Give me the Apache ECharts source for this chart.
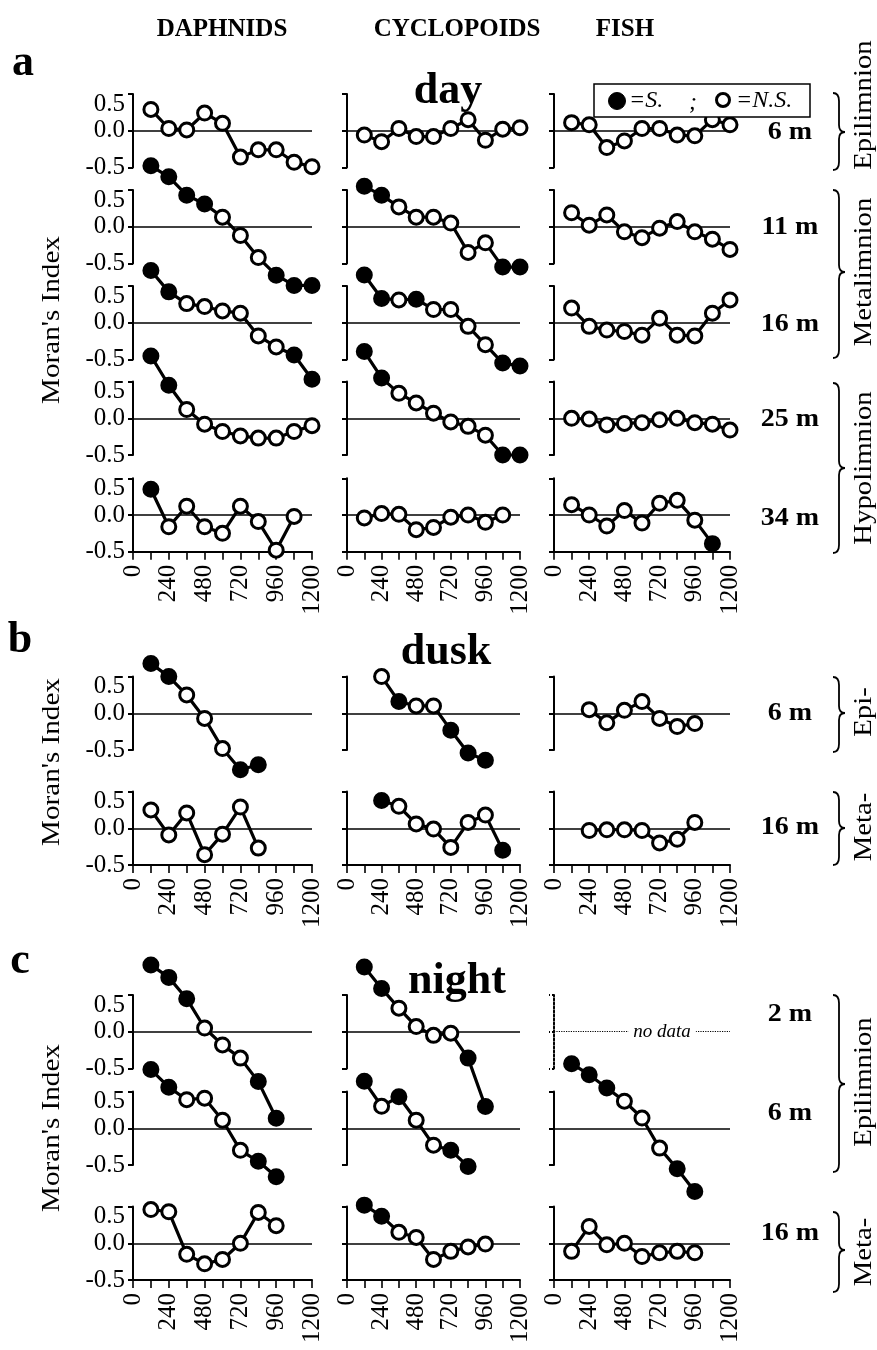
<!DOCTYPE html>
<html><head><meta charset="utf-8">
<script src="https://cdn.jsdelivr.net/npm/echarts@6/dist/echarts.min.js"></script>
<style>html,body{margin:0;padding:0;background:#fff}#c{width:877px;height:1350px}</style>
</head><body><div id="c"></div>
<script>
// ---------- DATA ----------
const LAGS = [120, 240, 360, 480, 600, 720, 840, 960, 1080, 1200];
const X_TICK_LABELS = [0, 240, 480, 720, 960, 1200];
const Y_TICK_LABELS = [-0.5, 0.0, 0.5];
const COLUMN_NAMES = ['DAPHNIDS', 'CYCLOPOIDS', 'FISH'];

// day (a)  -- sig: 1 = significant (filled), 0 = N.S. (open)
const dayDaph6  = [0.29, 0.03, 0.01, 0.24, 0.10, -0.36, -0.26, -0.26, -0.43, -0.49];
const dayDaph6Sig  = '0000000000';
const dayDaph11 = [0.83, 0.68, 0.43, 0.31, 0.13, -0.12, -0.42, -0.66, -0.80, -0.80];
const dayDaph11Sig = '1111000111';
const dayDaph16 = [0.71, 0.42, 0.26, 0.22, 0.16, 0.13, -0.18, -0.33, -0.44, -0.77];
const dayDaph16Sig = '1100000011';
const dayDaph25 = [0.85, 0.45, 0.12, -0.08, -0.18, -0.24, -0.27, -0.27, -0.18, -0.10];
const dayDaph25Sig = '1100000000';
const dayDaph34 = [0.35, -0.16, 0.12, -0.16, -0.25, 0.12, -0.09, -0.48, -0.02];
const dayDaph34Sig = '100000000';

const dayCyc6  = [-0.06, -0.15, 0.03, -0.08, -0.08, 0.03, 0.15, -0.13, 0.02, 0.04];
const dayCyc6Sig  = '0000000000';
const dayCyc11 = [0.55, 0.43, 0.27, 0.13, 0.13, 0.05, -0.35, -0.22, -0.55, -0.55];
const dayCyc11Sig = '1100000011';
const dayCyc16 = [0.65, 0.33, 0.31, 0.32, 0.18, 0.18, -0.05, -0.30, -0.55, -0.59];
const dayCyc16Sig = '1101000011';
const dayCyc25 = [0.91, 0.55, 0.34, 0.21, 0.07, -0.05, -0.11, -0.23, -0.50, -0.50];
const dayCyc25Sig = '1100000011';
const dayCyc34 = [-0.04, 0.02, 0.01, -0.20, -0.17, -0.03, 0.00, -0.10, 0.00];
const dayCyc34Sig = '000000000';

const dayFish6  = [0.11, 0.08, -0.23, -0.14, 0.03, 0.03, -0.06, -0.07, 0.15, 0.08];
const dayFish6Sig  = '0000000000';
const dayFish11 = [0.19, 0.02, 0.16, -0.07, -0.15, -0.02, 0.07, -0.07, -0.17, -0.31];
const dayFish11Sig = '0000000000';
const dayFish16 = [0.20, -0.05, -0.10, -0.12, -0.17, 0.06, -0.17, -0.18, 0.13, 0.31];
const dayFish16Sig = '0000000000';
const dayFish25 = [0.00, -0.01, -0.09, -0.07, -0.06, -0.02, 0.00, -0.06, -0.08, -0.16];
const dayFish25Sig = '0000000000';
const dayFish34 = [0.14, 0.00, -0.15, 0.06, -0.11, 0.16, 0.20, -0.07, -0.39];
const dayFish34Sig = '000000001';

// dusk (b)
const duskDaph6  = [0.68, 0.50, 0.25, -0.07, -0.48, -0.77, -0.70];        // lags from 120
const duskDaph6Sig  = '1100011';
const duskCyc6   = [0.50, 0.16, 0.10, 0.10, -0.23, -0.54, -0.64];         // lags from 240
const duskCyc6Sig   = '0100111';
const duskFish6  = [0.05, -0.13, 0.04, 0.16, -0.07, -0.18, -0.14];        // lags from 240
const duskFish6Sig  = '0000000';
const duskDaph16 = [0.25, -0.09, 0.21, -0.36, -0.08, 0.29, -0.27];        // from 120
const duskDaph16Sig = '0000000';
const duskCyc16  = [0.38, 0.30, 0.06, -0.01, -0.26, 0.08, 0.18, -0.30];   // from 240
const duskCyc16Sig  = '10000001';
const duskFish16 = [-0.03, -0.02, -0.02, -0.03, -0.20, -0.15, 0.08];      // from 240
const duskFish16Sig = '0000000';

// night (c)
const nightDaph2  = [0.91, 0.74, 0.45, 0.05, -0.18, -0.36, -0.68, -1.18];
const nightDaph2Sig  = '11100011';
const nightCyc2   = [0.88, 0.59, 0.32, 0.07, -0.05, -0.02, -0.36, -1.02];
const nightCyc2Sig   = '11000011';
const nightDaph6  = [0.80, 0.56, 0.39, 0.41, 0.11, -0.30, -0.45, -0.66];
const nightDaph6Sig  = '11000011';
const nightCyc6   = [0.64, 0.30, 0.43, 0.11, -0.23, -0.30, -0.52];
const nightCyc6Sig   = '1010011';
const nightFish6  = [0.88, 0.73, 0.55, 0.37, 0.14, -0.27, -0.55, -0.86];
const nightFish6Sig  = '11100011';
const nightDaph16 = [0.46, 0.43, -0.15, -0.28, -0.22, 0.00, 0.42, 0.24];
const nightDaph16Sig = '00000000';
const nightCyc16  = [0.52, 0.37, 0.15, 0.08, -0.22, -0.11, -0.05, -0.01];
const nightCyc16Sig  = '11000000';
const nightFish16 = [-0.11, 0.23, -0.02, 0.00, -0.18, -0.13, -0.11, -0.13];
const nightFish16Sig = '00000000';

// ---------- LAYOUT ----------
const COLS = [{l: 133, r: 312}, {l: 347, r: 520}, {l: 554, r: 730}];
const HALF = 36.7;
const FONT = 'Liberation Serif';
const AXFS = 25;

// panel spec: col, zero-line y, bottom row?, values, sig, first lag index
const PANELS = [
  // day
  [0, 130.7, false, dayDaph6, dayDaph6Sig, 0], [1, 130.7, false, dayCyc6, dayCyc6Sig, 0], [2, 130.7, false, dayFish6, dayFish6Sig, 0],
  [0, 226.7, false, dayDaph11, dayDaph11Sig, 0], [1, 226.7, false, dayCyc11, dayCyc11Sig, 0], [2, 226.7, false, dayFish11, dayFish11Sig, 0],
  [0, 322.7, false, dayDaph16, dayDaph16Sig, 0], [1, 322.7, false, dayCyc16, dayCyc16Sig, 0], [2, 322.7, false, dayFish16, dayFish16Sig, 0],
  [0, 418.3, false, dayDaph25, dayDaph25Sig, 0], [1, 418.3, false, dayCyc25, dayCyc25Sig, 0], [2, 418.3, false, dayFish25, dayFish25Sig, 0],
  [0, 515.0, true, dayDaph34, dayDaph34Sig, 0], [1, 515.0, true, dayCyc34, dayCyc34Sig, 0], [2, 515.0, true, dayFish34, dayFish34Sig, 0],
  // dusk
  [0, 713.3, false, duskDaph6, duskDaph6Sig, 0], [1, 713.3, false, duskCyc6, duskCyc6Sig, 1], [2, 713.3, false, duskFish6, duskFish6Sig, 1],
  [0, 828.3, true, duskDaph16, duskDaph16Sig, 0], [1, 828.3, true, duskCyc16, duskCyc16Sig, 1], [2, 828.3, true, duskFish16, duskFish16Sig, 1],
  // night
  [0, 1031.7, false, nightDaph2, nightDaph2Sig, 0], [1, 1031.7, false, nightCyc2, nightCyc2Sig, 0], [2, 1031.7, false, null, null, 0],
  [0, 1128.3, false, nightDaph6, nightDaph6Sig, 0], [1, 1128.3, false, nightCyc6, nightCyc6Sig, 0], [2, 1128.3, false, nightFish6, nightFish6Sig, 0],
  [0, 1243.3, true, nightDaph16, nightDaph16Sig, 0], [1, 1243.3, true, nightCyc16, nightCyc16Sig, 0], [2, 1243.3, true, nightFish16, nightFish16Sig, 0]
];

const grids = [], xAxes = [], yAxes = [], series = [];
PANELS.forEach((p, k) => {
  const [col, zero, bottom, vals, sig, start] = p;
  const c = COLS[col];
  const noData = vals === null;
  grids.push({left: c.l, top: zero - HALF, width: c.r - c.l, height: HALF * 2, containLabel: false});
  xAxes.push({
    type: 'value', gridIndex: k, min: 0, max: 1200, interval: 120, show: bottom,
    axisLine: {show: true, onZero: false, lineStyle: {color: '#000', width: 2}},
    axisTick: {show: true, length: 8, lineStyle: {color: '#000', width: 1.6}},
    axisLabel: {show: true, rotate: 90, margin: 13, color: '#000', fontFamily: FONT, fontSize: AXFS,
      showMinLabel: true, showMaxLabel: true,
      formatter: v => X_TICK_LABELS.indexOf(v) >= 0 ? String(v) : ''},
    splitLine: {show: false}
  });
  yAxes.push({
    type: 'value', gridIndex: k, min: Y_TICK_LABELS[0], max: Y_TICK_LABELS[2], interval: 0.5,
    axisLine: {show: true, lineStyle: {color: '#000', width: 2, type: noData ? 'dotted' : 'solid'}},
    axisTick: {show: true, length: 5, lineStyle: {color: '#000', width: 2, type: noData ? 'dotted' : 'solid'}},
    axisLabel: {show: col === 0, margin: 8, color: '#000', fontFamily: FONT, fontSize: AXFS,
      showMinLabel: true, showMaxLabel: true,
      formatter: v => v === Y_TICK_LABELS[2] ? '{t|' + v.toFixed(1) + '}' : v.toFixed(1),
      rich: {t: {padding: [20, 0, 0, 0], fontFamily: FONT, fontSize: AXFS, color: '#000'}}},
    splitLine: {show: false}
  });
  // zero reference line
  series.push({
    type: 'line', xAxisIndex: k, yAxisIndex: k, data: [], z: 1, silent: true, animation: false,
    markLine: {silent: true, symbol: ['none', 'none'], label: {show: false}, animation: false,
      lineStyle: {color: '#000', width: noData ? 1.2 : 1.6, type: noData ? 'dotted' : 'solid'},
      emphasis: {disabled: true}, data: [{yAxis: 0}]}
  });
  if (!noData) {
    series.push({
      type: 'line', xAxisIndex: k, yAxisIndex: k, z: 5, clip: false, animation: false, silent: true,
      symbol: 'circle', symbolSize: 14, showAllSymbol: true,
      lineStyle: {color: '#000', width: 3.2},
      itemStyle: {borderColor: '#000', borderWidth: 3},
      emphasis: {disabled: true},
      data: vals.map((v, i) => ({value: [LAGS[start + i], v],
        itemStyle: {color: sig[i] === '1' ? '#000' : '#fff', borderColor: '#000', borderWidth: 3}}))
    });
  }
});

// ---------- annotations ----------
const G = [];
function txt(s, x, y, o) {
  o = o || {};
  G.push({type: 'text', x: x, y: y, rotation: o.rot || 0, scaleX: o.sx || 1, scaleY: o.sy || 1, z: 20,
    style: {text: s, fill: '#000', fontFamily: FONT, fontSize: o.size || 24, fontWeight: o.bold ? 'bold' : 'normal',
      fontStyle: o.italic ? 'italic' : 'normal',
      textAlign: o.align || 'center', textVerticalAlign: 'middle', align: o.align || 'center', verticalAlign: 'middle',
      backgroundColor: o.bg, padding: o.pad}});
}
function brace(x, y1, y2, ym) {
  const s = {stroke: '#000', lineWidth: 1.8, fill: null};
  G.push({type: 'bezierCurve', z: 20, shape: {x1: x, y1: y1, x2: x + 6, y2: y1 + 8, cpx1: x + 6, cpy1: y1}, style: s});
  G.push({type: 'line', z: 20, shape: {x1: x + 6, y1: y1 + 8, x2: x + 6, y2: ym - 7}, style: s});
  G.push({type: 'bezierCurve', z: 20, shape: {x1: x + 6, y1: ym - 7, x2: x + 12, y2: ym, cpx1: x + 6, cpy1: ym}, style: s});
  G.push({type: 'bezierCurve', z: 20, shape: {x1: x + 12, y1: ym, x2: x + 6, y2: ym + 7, cpx1: x + 6, cpy1: ym}, style: s});
  G.push({type: 'line', z: 20, shape: {x1: x + 6, y1: ym + 7, x2: x + 6, y2: y2 - 8}, style: s});
  G.push({type: 'bezierCurve', z: 20, shape: {x1: x + 6, y1: y2 - 8, x2: x, y2: y2, cpx1: x + 6, cpy1: y2}, style: s});
}

txt(COLUMN_NAMES[0], 222, 30, {bold: true, size: 25});
txt(COLUMN_NAMES[1], 457, 30, {bold: true, size: 25});
txt(COLUMN_NAMES[2], 625, 30, {bold: true, size: 25});
txt('a', 23, 64, {bold: true, size: 44});
txt('b', 20, 641, {bold: true, size: 44});
txt('c', 20, 962, {bold: true, size: 44});
txt('day', 448, 92, {bold: true, size: 44});
txt('dusk', 446, 653, {bold: true, size: 44});
txt('night', 457, 982, {bold: true, size: 44});

// depth labels
[['6 m', 133], ['11 m', 228], ['16 m', 325], ['25 m', 420], ['34 m', 519],
 ['6 m', 714], ['16 m', 828], ['2 m', 1015], ['6 m', 1114], ['16 m', 1234]]
  .forEach(d => txt(d[0], 790, d[1], {bold: true, size: 25, sx: 1.12}));

// layer names
[['Epilimnion', 105], ['Metalimnion', 272], ['Hypolimnion', 468], ['Epi-', 712],
 ['Meta-', 827], ['Epilimnion', 1082], ['Meta-', 1252]]
  .forEach(d => txt(d[0], 864, d[1], {size: 25, rot: Math.PI / 2, sx: 1.15}));

brace(833, 93, 170, 132);
brace(833, 190, 358, 272);
brace(833, 383, 553, 468);
brace(833, 677, 752, 713);
brace(833, 792, 865, 828);
brace(833, 995, 1172, 1084);
brace(833, 1212, 1292, 1250);

// y titles
[320, 762, 1128].forEach(y => txt("Moran's Index", 52, y, {size: 26, rot: Math.PI / 2, sx: 1.12}));

// no data
txt('no data', 662, 1032, {italic: true, size: 19, bg: '#fff', pad: [0, 5]});

// legend box
G.push({type: 'rect', z: 19, shape: {x: 594, y: 84, width: 216, height: 33}, style: {fill: '#fff', stroke: '#000', lineWidth: 1.5}});
G.push({type: 'circle', z: 20, shape: {cx: 617, cy: 101, r: 8.5}, style: {fill: '#000', stroke: '#000'}});
txt('=S.', 629, 101, {italic: true, size: 24, align: 'left'});
txt(';', 693, 103, {italic: true, size: 24});
G.push({type: 'circle', z: 20, shape: {cx: 723, cy: 100, r: 6.5}, style: {fill: '#fff', stroke: '#000', lineWidth: 3}});
txt('=N.S.', 736, 101, {italic: true, size: 24, align: 'left'});

const chart = echarts.init(document.getElementById('c'), null, {renderer: 'canvas'});
chart.setOption({
  animation: false,
  backgroundColor: '#fff',
  grid: grids, xAxis: xAxes, yAxis: yAxes, series: series,
  graphic: {elements: G}
});
</script></body></html>
